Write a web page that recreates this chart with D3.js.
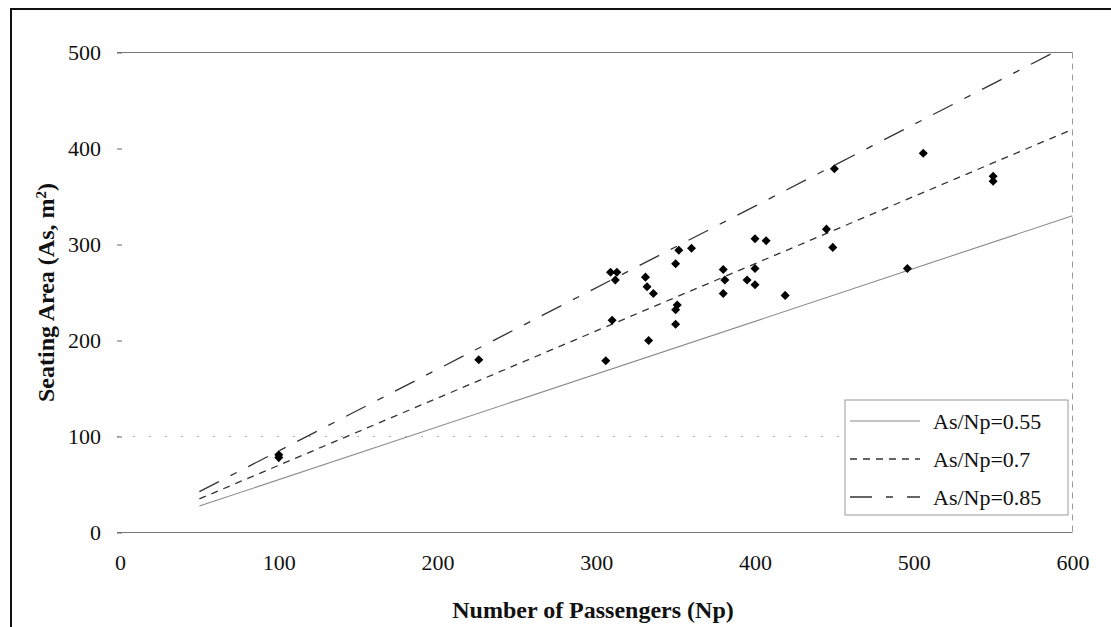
<!DOCTYPE html>
<html>
<head>
<meta charset="utf-8">
<script src="https://cdn.jsdelivr.net/npm/d3@7"></script>
<style>
  html, body { margin: 0; padding: 0; background: #fff; }
  svg { display: block; }
  svg text { font-family: "Liberation Serif", "Times New Roman", "DejaVu Serif", serif; fill: #111; }
</style>
</head>
<body>
<svg id="chart" width="1111" height="627"></svg>
<script>
// Aircraft seating area against passenger count
const passengers = [100, 100, 226, 306, 309, 313, 312, 310, 331, 332, 336, 333,
                    350, 352, 360, 351, 350, 350, 380, 381, 380, 395, 400, 407,
                    400, 400, 419, 445, 450, 449, 506, 550, 550, 496];
const seatingArea = [78, 81, 180, 179, 271, 271, 263, 221, 266, 256, 249, 200,
                     280, 294, 296, 237, 232, 217, 274, 263, 249, 263, 306, 304,
                     275, 258, 247, 316, 379, 297, 395, 366, 371, 275];

// Reference ratio lines As = k * Np
const ratios = [0.55, 0.7, 0.85];
const ratioLabels = ["As/Np=0.55", "As/Np=0.7", "As/Np=0.85"];
const lineRange = [50, 600];

const xTicks = [0, 100, 200, 300, 400, 500, 600];
const yTicks = [0, 100, 200, 300, 400, 500];

const serif = "'Liberation Serif', 'Times New Roman', 'DejaVu Serif', serif";

const svg = d3.select("#chart");

const x = d3.scaleLinear().domain([0, 600]).range([120, 1072.5]);
const y = d3.scaleLinear().domain([0, 500]).range([532.5, 52.5]);

// plot-area clip so the steep ratio line stops at the top edge
svg.append("defs").append("clipPath").attr("id", "plot-clip")
  .append("rect")
  .attr("x", x(0)).attr("y", y(500))
  .attr("width", x(600) - x(0)).attr("height", y(0) - y(500));

// outer frame
svg.append("rect")
  .attr("x", 11).attr("y", 9).attr("width", 1120).attr("height", 640)
  .attr("fill", "none").attr("stroke", "#111").attr("stroke-width", 2);

// horizontal gridlines
const gridStyle = {
  0:   { color: "#777", dash: null, w: 1.2 },
  100: { color: "#aaa", dash: "2,14", w: 1 },
  500: { color: "#777", dash: null, w: 1.2 }
};
svg.append("g").selectAll("line")
  .data(yTicks.filter(v => gridStyle[v]))
  .join("line")
  .attr("x1", x(0) - 3).attr("x2", x(600))
  .attr("y1", d => y(d)).attr("y2", d => y(d))
  .attr("stroke", d => gridStyle[d].color)
  .attr("stroke-width", d => gridStyle[d].w)
  .attr("stroke-dasharray", d => gridStyle[d].dash);

// right edge of plot area
svg.append("line")
  .attr("x1", x(600)).attr("x2", x(600))
  .attr("y1", y(500)).attr("y2", y(0))
  .attr("stroke", "#999").attr("stroke-width", 1)
  .attr("stroke-dasharray", "6,5");

// y axis
const yAxis = d3.axisLeft(y).tickValues(yTicks).tickSize(5).tickPadding(14);
const gy = svg.append("g").attr("transform", `translate(${x(0)},0)`).call(yAxis)
  .attr("font-family", serif).attr("font-size", 22);
gy.select(".domain").remove();
gy.selectAll(".tick line").attr("stroke", "#666").attr("transform", "translate(2,0)");
gy.selectAll(".tick text").attr("fill", "#111");

// x axis
const xAxis = d3.axisBottom(x).tickValues(xTicks).tickSize(0).tickPadding(22);
const gx = svg.append("g").attr("transform", `translate(0,${y(0)})`).call(xAxis)
  .attr("font-family", serif).attr("font-size", 22);
gx.select(".domain").remove();
gx.selectAll(".tick text").attr("fill", "#111");

// ratio lines
const lineStyles = [
  { color: "#8a8a8a", dash: null, w: 1.1 },
  { color: "#333", dash: "7,6", w: 1.3 },
  { color: "#333", dash: "22,13,7,13", w: 1.3 }
];
const line = d3.line().x(d => x(d[0])).y(d => y(d[1]));
svg.append("g").attr("clip-path", "url(#plot-clip)")
  .selectAll("path")
  .data(ratios)
  .join("path")
  .attr("d", k => line(lineRange.map(n => [n, n * k])))
  .attr("fill", "none")
  .attr("stroke", (k, i) => lineStyles[i].color)
  .attr("stroke-width", (k, i) => lineStyles[i].w)
  .attr("stroke-dasharray", (k, i) => lineStyles[i].dash);

// data points
const diamond = d3.symbol().type(d3.symbolDiamond2).size(52);
svg.append("g").selectAll("path")
  .data(passengers.map((n, i) => [n, seatingArea[i]]))
  .join("path")
  .attr("d", diamond)
  .attr("transform", d => `translate(${x(d[0])},${y(d[1])})`)
  .attr("fill", "#000");

// legend
const legend = svg.append("g");
legend.append("rect")
  .attr("x", 845).attr("y", 400).attr("width", 1068 - 845).attr("height", 115)
  .attr("fill", "#fff").attr("stroke", "#999").attr("stroke-width", 1);
const rows = legend.selectAll("g.row")
  .data(ratios)
  .join("g")
  .attr("class", "row")
  .attr("transform", (k, i) => `translate(0,${421 + i * 38})`);
rows.append("line")
  .attr("x1", 850).attr("x2", 920).attr("y1", 0).attr("y2", 0)
  .attr("stroke", (k, i) => lineStyles[i].color)
  .attr("stroke-width", (k, i) => lineStyles[i].w)
  .attr("stroke-dasharray", (k, i) => i === 2 ? "22,14,7,14" : lineStyles[i].dash);
rows.append("text")
  .attr("x", 933).attr("y", 0).attr("dy", "0.35em")
  .attr("font-family", serif).attr("font-size", 22)
  .text((k, i) => ratioLabels[i]);

// axis titles
svg.append("text")
  .attr("x", 593).attr("y", 610).attr("dy", "0.35em")
  .attr("text-anchor", "middle")
  .attr("font-family", serif).attr("font-size", 24).attr("font-weight", "bold")
  .text("Number of Passengers (Np)");

const yt = svg.append("text")
  .attr("transform", `translate(46,${y(250)}) rotate(-90)`)
  .attr("text-anchor", "middle").attr("dy", "0.35em")
  .attr("font-family", serif).attr("font-size", 24).attr("font-weight", "bold");
yt.append("tspan").text("Seating Area (As, m");
yt.append("tspan").attr("baseline-shift", "super").attr("font-size", 15).text("2");
yt.append("tspan").text(")");
</script>
</body>
</html>
